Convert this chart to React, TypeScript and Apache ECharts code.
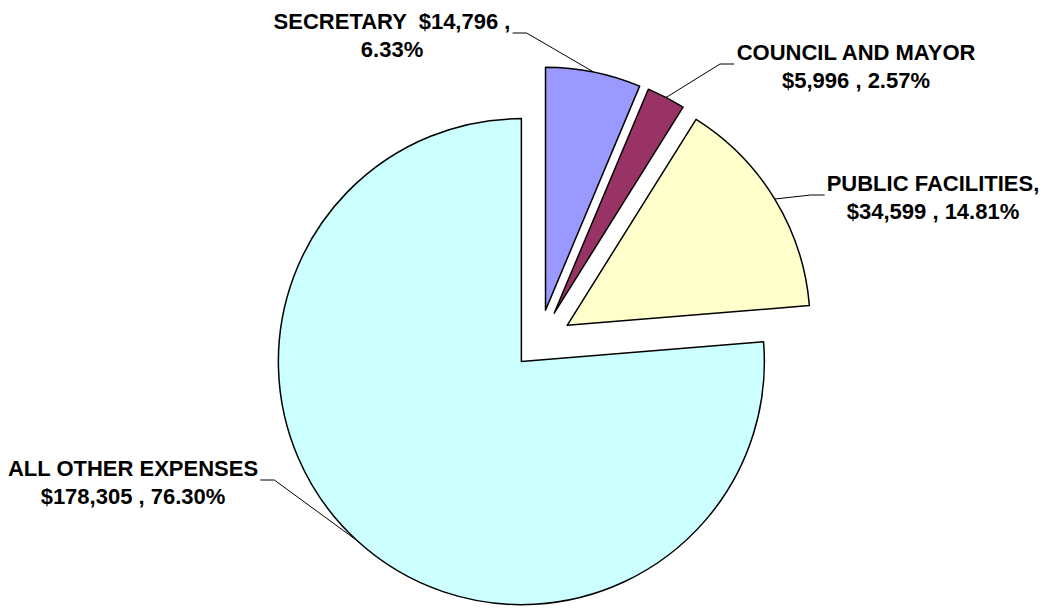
import React, { useEffect, useRef } from 'react';
import * as echarts from 'echarts';

// ---- data ----
const categories = ['SECRETARY', 'COUNCIL AND MAYOR', 'PUBLIC FACILITIES,', 'ALL OTHER EXPENSES'];
const values = [14796, 5996, 34599, 178305];
// name / value line break: Secretary keeps name + value on line 1
const nameSeparators = ['  ', '\n', '\n', '\n'];
const valueSeparators = [' ,\n', ' , ', ' , ', ' , '];

// ---- style ----
const colors = ['#9999FF', '#993366', '#FFFFCC', '#CCFFFF'];
const explode = [33, 33, 33, 26];
const labelCentres = [
  [392, 35],
  [856, 66],
  [933, 197],
  [133, 482],
];
const PIE_CENTRE = [539, 342.5];
const PIE_RADIUS = 243;
const FONT = '"Liberation Sans", Arial, Helvetica, sans-serif';

const total = values.reduce((a, b) => a + b, 0);

function fmtLabel(i: number) {
  const v = values[i].toLocaleString('en-US');
  const pct = ((values[i] / total) * 100).toFixed(2);
  return `${categories[i]}${nameSeparators[i]}$${v}${valueSeparators[i]}${pct}%`;
}

export default function App() {
  const ref = useRef<HTMLDivElement>(null);

  useEffect(() => {
    if (!ref.current) return;
    const chart = echarts.init(ref.current, undefined, { renderer: 'svg' });

    let cum = 0;
    const series = values.map((val, i) => {
      const mid = ((cum + val / 2) / total) * Math.PI * 2;
      cum += val;
      const cx = PIE_CENTRE[0] + explode[i] * Math.sin(mid);
      const cy = PIE_CENTRE[1] - explode[i] * Math.cos(mid);
      return {
        type: 'pie',
        center: [cx, cy],
        radius: PIE_RADIUS,
        startAngle: 90,
        clockwise: true,
        silent: true,
        avoidLabelOverlap: false,
        emphasis: { disabled: true },
        data: values.map((v, j) => ({
          name: categories[j],
          value: v,
          itemStyle:
            j === i
              ? { color: colors[j], borderColor: '#000', borderWidth: 1.5 }
              : { color: 'rgba(0,0,0,0)', borderWidth: 0 },
          label: { show: j === i },
          labelLine: { show: j === i },
        })),
        label: {
          position: 'outside',
          formatter: (p: any) => fmtLabel(p.dataIndex),
          color: '#000',
          fontFamily: FONT,
          fontWeight: 'bold',
          fontSize: 22,
          lineHeight: 28,
          align: 'center',
        },
        labelLine: {
          length: 20,
          length2: 15,
          lineStyle: { color: '#000', width: 1 },
        },
        labelLayout: (p: any) => {
          if (p.dataIndex !== i) return {};
          const [lx, ly] = labelCentres[i];
          let m: number[];
          if (p.labelLinePoints && p.labelLinePoints[0]) {
            m = [p.labelLinePoints[0][0], p.labelLinePoints[0][1]];
          } else {
            m = [cx + PIE_RADIUS * Math.sin(mid), cy - PIE_RADIUS * Math.cos(mid)];
          }
          const w = p.labelRect ? p.labelRect.width : 240;
          const side = lx < m[0] ? 1 : -1;
          const ax = lx + side * (w / 2 + 2);
          const ay = ly - 2;
          const tx = ax + side * 14;
          return {
            x: lx,
            y: ly,
            align: 'center',
            verticalAlign: 'middle',
            labelLinePoints: [m, [tx, ay], [ax, ay]],
          };
        },
      };
    });

    chart.setOption({
      animation: false,
      backgroundColor: '#fff',
      series,
    } as any);

    return () => chart.dispose();
  }, []);

  return (
    <div
      ref={ref}
      style={{ position: 'absolute', left: 0, top: 0, width: 1045, height: 608 }}
    />
  );
}
